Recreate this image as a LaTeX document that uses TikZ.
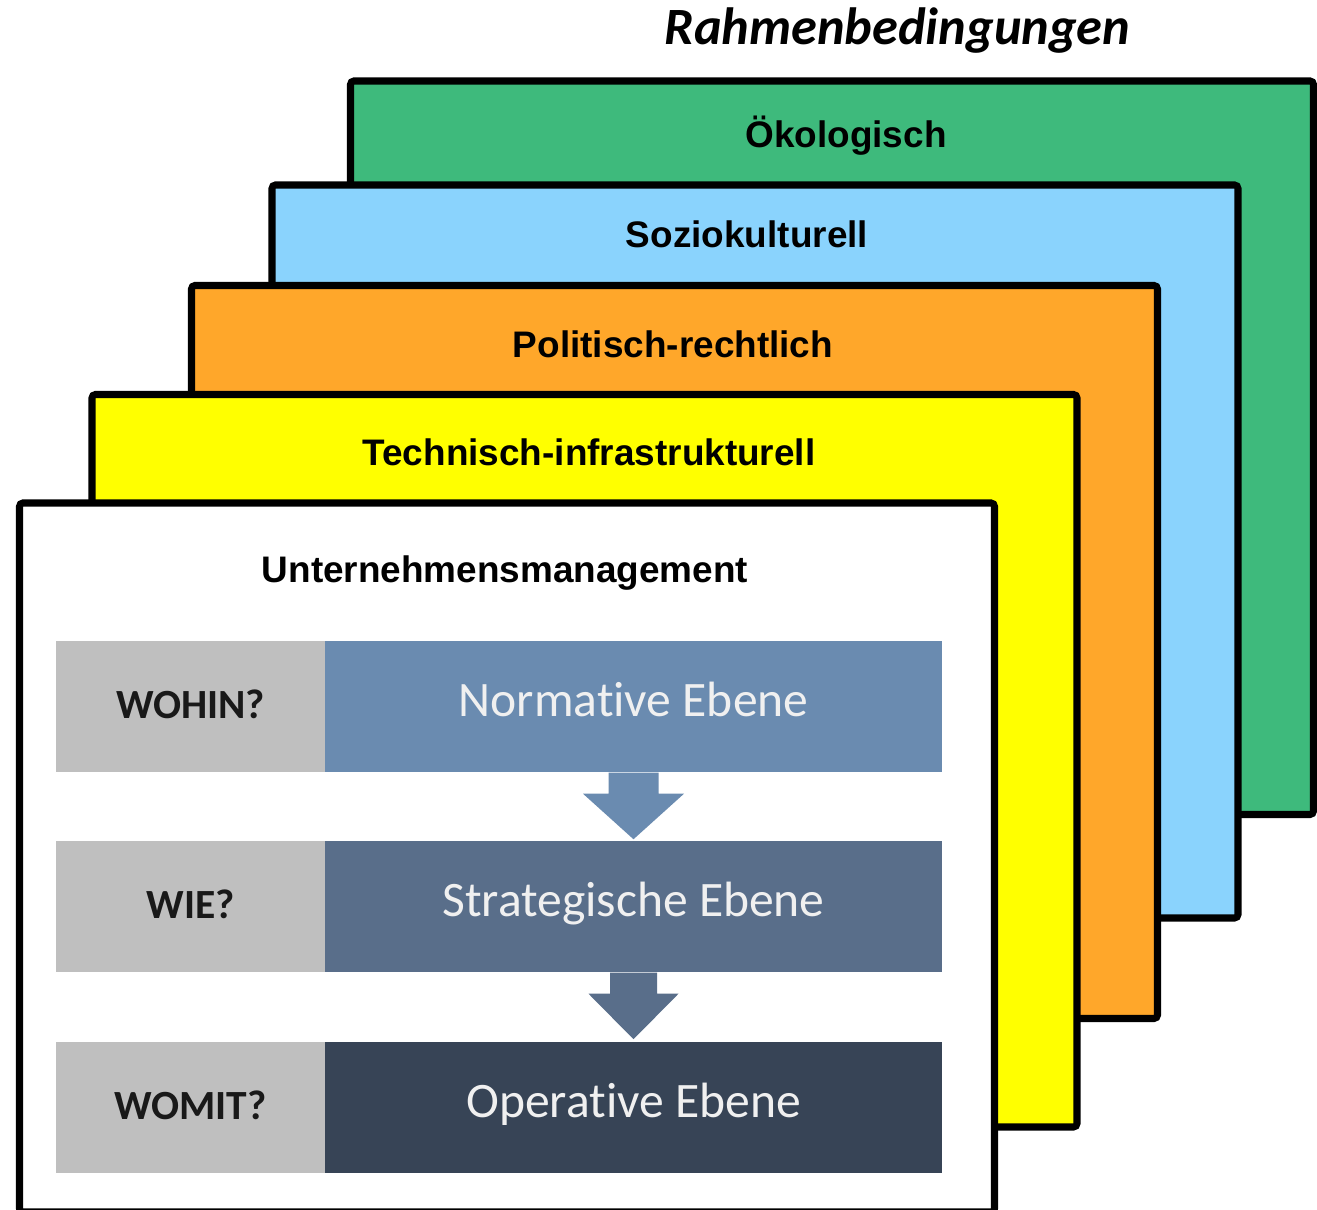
\documentclass[tikz,border=0pt]{standalone}
\usepackage{fontspec}
\setmainfont{Liberation Sans}
\newfontfamily\calibri[Ligatures=NoCommon]{Carlito}
\usetikzlibrary{calc}
\definecolor{oekogreen}{RGB}{62,186,124}
\definecolor{soziblue}{RGB}{138,211,253}
\definecolor{politorange}{RGB}{255,167,42}
\definecolor{technyellow}{RGB}{255,255,0}
\definecolor{fragegray}{RGB}{191,191,191}
\definecolor{normblue}{RGB}{106,139,176}
\definecolor{stratblue}{RGB}{89,110,138}
\definecolor{opblue}{RGB}{55,68,86}

\begin{document}
\begin{tikzpicture}[x=0.01cm, y=-0.01cm,
		frame/.style={draw=black, line width=2pt, rounded corners=1pt},
		framelabel/.style={anchor=base, font=\bfseries\fontsize{10.5pt}{12pt}\selectfont},
		frage/.style={fill=fragegray, minimum width=2.69cm, minimum height=1.31cm, inner sep=0pt,
			text=black!90, text height=0.3cm, text depth=0.06cm, font=\calibri\bfseries\fontsize{11.8pt}{13pt}\selectfont},
		ebene/.style={minimum width=6.17cm, minimum height=1.31cm, inner sep=0pt,
			text=white!94!black, text height=0.3cm, text depth=0.1cm, font=\calibri\fontsize{14.1pt}{16pt}\selectfont}]
				\useasboundingbox (0,0) rectangle (1317,1210);
				\clip (0,0) rectangle (1317,1210);
				\node[anchor=base, font=\calibri\bfseries\itshape\fontsize{14.9pt}{17pt}\selectfont] (rahmen) at (897.5,45) {Rahmenbedingungen};
				% frames, back to front
				\draw[frame, fill=oekogreen] (350.5,81) rectangle (1313.5,814.5);
				\node[framelabel] (oeko) at (846,148) {Ökologisch};
				\draw[frame, fill=soziblue] (272,185) rectangle (1238,918);
				\node[framelabel] (sozio) at (747,248) {Soziokulturell};
				\draw[frame, fill=politorange] (191.5,285.5) rectangle (1157.5,1018.5);
				\node[framelabel] (polit) at (673,358) {Politisch-rechtlich};
				\draw[frame, fill=technyellow] (92,394.5) rectangle (1077,1127);
				\node[framelabel] (techn) at (589,466) {Technisch-infrastrukturell};
				\draw[frame, fill=white] (19.5,503) rectangle (994.5,1212);
				\node[framelabel] (untern) at (505,582.5) {Unternehmensmanagement};
				% ebenen
				\node[frage] (wohin) at (190.5,706.5) {WOHIN?};
				\node[frage] (wie) at (190.5,906.5) {WIE?};
				\node[frage] (womit) at (190.5,1107.5) {WOMIT?};
				\node[ebene, fill=normblue] (normativ) at (633.5,706.5) {Normative Ebene};
				\node[ebene, fill=stratblue] (strategisch) at (633.5,906.5) {Strategische Ebene};
				\node[ebene, fill=opblue] (operativ) at (633.5,1107.5) {Operative Ebene};
				% block arrows
				\fill[normblue] ($(normativ.south)+(-25,0)$) -- ++(0,21) -- ++(-25.5,0) -- ($(strategisch.north)+(0,-1)$)
					-- ($(normativ.south)+(50.5,21)$) -- ++(-25.5,0) -- ($(normativ.south)+(25,0)$) -- cycle;
				\fill[stratblue] ($(strategisch.south)+(-23.5,0)$) -- ++(0,21) -- ++(-21.5,0) -- ($(operativ.north)+(0,-2)$)
					-- ($(strategisch.south)+(45,21)$) -- ++(-21.5,0) -- ($(strategisch.south)+(23.5,0)$) -- cycle;
			\end{tikzpicture}
\end{document}
